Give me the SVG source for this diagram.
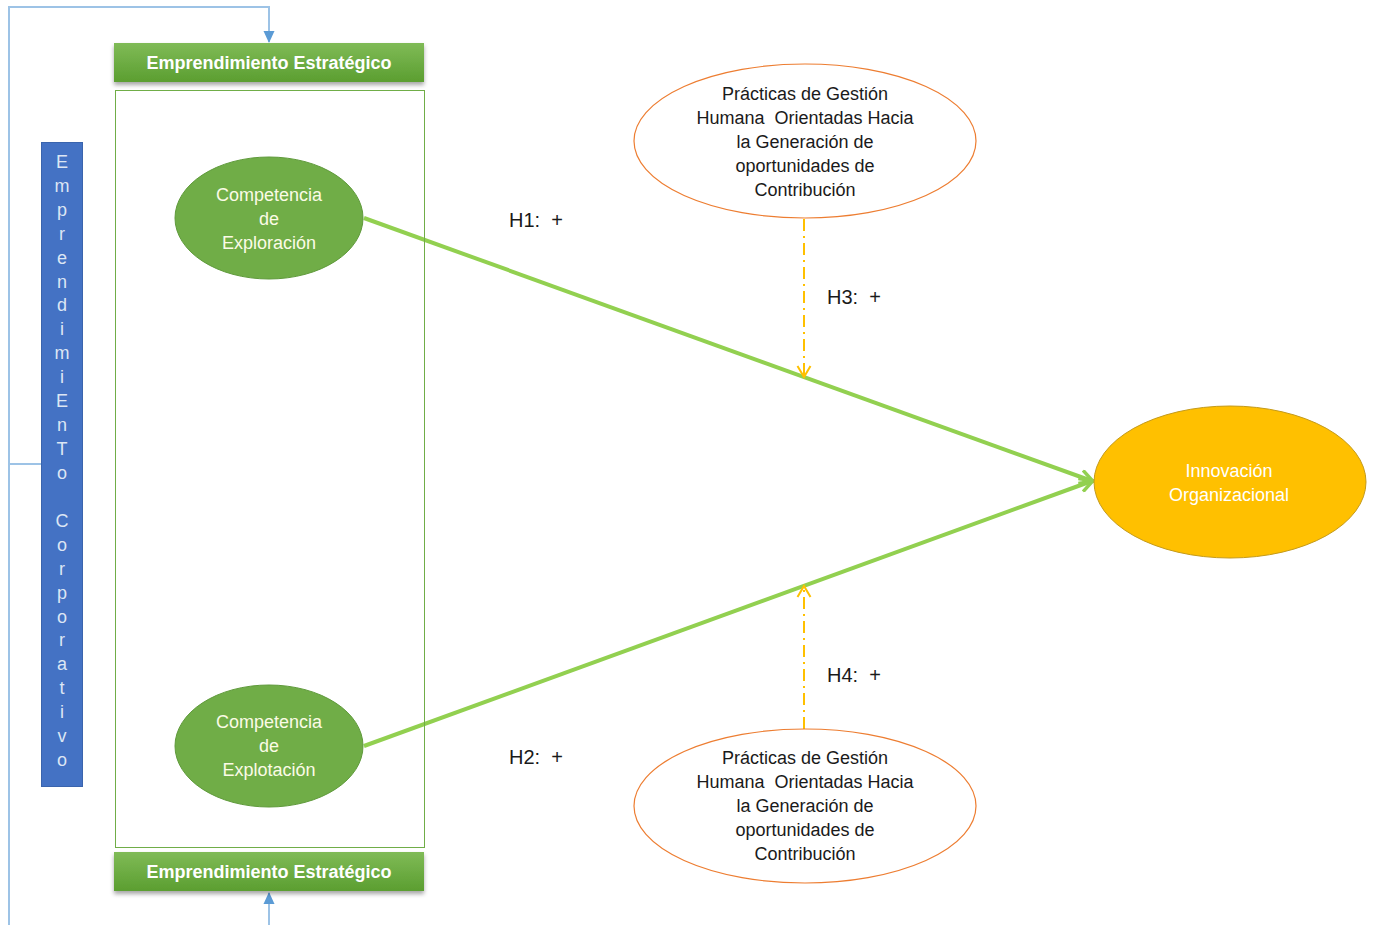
<svg xmlns="http://www.w3.org/2000/svg" width="1374" height="925" viewBox="0 0 1374 925">
  <style>
    .hdr-text { font-family: "Liberation Sans", Arial, sans-serif; font-weight: bold; font-size: 18px; fill: #ffffff; text-anchor: middle; }
    .vert { font-family: "Liberation Sans", Arial, sans-serif; font-size: 18px; fill: #dce6f4; text-anchor: middle; }
    .comp { font-family: "Liberation Sans", Arial, sans-serif; font-size: 18px; fill: #fbfbe6; text-anchor: middle; }
    .inno { font-family: "Liberation Sans", Arial, sans-serif; font-size: 18px; fill: #ffffff; text-anchor: middle; }
    .prac { font-family: "Liberation Sans", Arial, sans-serif; font-size: 18px; fill: #1a1a1a; text-anchor: middle; white-space: pre; }
    .hyp { font-family: "Liberation Sans", Arial, sans-serif; font-size: 20px; fill: #1a1a1a; white-space: pre; }
    .blue-link { fill: none; stroke: #9dc3e6; stroke-width: 2; }
    .main-link { fill: none; stroke: #92d050; stroke-width: 4; }
    .mod-link { fill: none; stroke: #ffc000; stroke-width: 2; stroke-dasharray: 12 5 2 5; }
  </style>
  <defs>
    <linearGradient id="hdrGrad" x1="0" y1="0" x2="0" y2="1">
      <stop offset="0" stop-color="#80bb57"/>
      <stop offset="1" stop-color="#5b9e30"/>
    </linearGradient>
    <filter id="shadow" x="-5%" y="-20%" width="110%" height="160%">
      <feDropShadow dx="0" dy="3" stdDeviation="2" flood-color="#000" flood-opacity="0.35"/>
    </filter>
    <marker id="blueArrow" markerWidth="12" markerHeight="12" refX="11" refY="6" orient="auto" markerUnits="userSpaceOnUse">
      <path d="M0,0.5 L12,6 L0,11.5 Z" fill="#5b9bd5"/>
    </marker>
    <marker id="greenArrow" markerWidth="16" markerHeight="16" refX="13" refY="8" orient="auto" markerUnits="userSpaceOnUse">
      <path d="M1,1 L14,8 L1,15" fill="none" stroke="#92d050" stroke-width="3.5" stroke-linejoin="miter"/>
    </marker>
    <marker id="modArrow" markerWidth="16" markerHeight="16" refX="13" refY="8" orient="auto" markerUnits="userSpaceOnUse">
      <path d="M2,1.5 L13,8 L2,14.5" fill="none" stroke="#ffc000" stroke-width="2"/>
    </marker>
  </defs>

  <rect width="1374" height="925" fill="#ffffff"/>

  <!-- connectors -->
  <g id="connectors">
    <polyline class="blue-link" points="9,925 9,7 269,7 269,42" marker-end="url(#blueArrow)"/>
    <line class="blue-link" x1="9" y1="464" x2="41" y2="464"/>
    <line class="blue-link" x1="269" y1="925" x2="269" y2="893" marker-end="url(#blueArrow)"/>
    <line class="main-link" x1="364" y1="218" x2="1092" y2="481" marker-end="url(#greenArrow)"/>
    <line class="main-link" x1="364" y1="746" x2="1092" y2="481" marker-end="url(#greenArrow)"/>
    <line class="mod-link" x1="804" y1="219" x2="804" y2="377" marker-end="url(#modArrow)"/>
    <line class="mod-link" x1="804" y1="729" x2="804" y2="586" marker-end="url(#modArrow)"/>
  </g>

  <!-- container for the two competences -->
  <g id="container">
    <rect x="115.5" y="90.5" width="309" height="757" fill="none" stroke="#70ad47" stroke-width="1"/>
  </g>

  <g id="header-top">
    <rect x="114" y="43" width="310" height="39" fill="url(#hdrGrad)" filter="url(#shadow)"/>
    <text class="hdr-text" x="269" y="69">Emprendimiento Estratégico</text>
  </g>

  <g id="header-bottom">
    <rect x="114" y="852" width="310" height="39" fill="url(#hdrGrad)" filter="url(#shadow)"/>
    <text class="hdr-text" x="269" y="878">Emprendimiento Estratégico</text>
  </g>

  <g id="emprendimiento-corporativo">
    <rect x="41.5" y="142.5" width="41" height="644" fill="#4472c4" stroke="#3a64ad" stroke-width="1"/>
    <text class="vert" x="62" y="168">E</text>
    <text class="vert" x="62" y="192">m</text>
    <text class="vert" x="62" y="216">p</text>
    <text class="vert" x="62" y="240">r</text>
    <text class="vert" x="62" y="264">e</text>
    <text class="vert" x="62" y="288">n</text>
    <text class="vert" x="62" y="311">d</text>
    <text class="vert" x="62" y="335">i</text>
    <text class="vert" x="62" y="359">m</text>
    <text class="vert" x="62" y="383">i</text>
    <text class="vert" x="62" y="407">E</text>
    <text class="vert" x="62" y="431">n</text>
    <text class="vert" x="62" y="455">T</text>
    <text class="vert" x="62" y="479">o</text>
    <text class="vert" x="62" y="527">C</text>
    <text class="vert" x="62" y="551">o</text>
    <text class="vert" x="62" y="575">r</text>
    <text class="vert" x="62" y="599">p</text>
    <text class="vert" x="62" y="623">o</text>
    <text class="vert" x="62" y="646">r</text>
    <text class="vert" x="62" y="670">a</text>
    <text class="vert" x="62" y="694">t</text>
    <text class="vert" x="62" y="718">i</text>
    <text class="vert" x="62" y="742">v</text>
    <text class="vert" x="62" y="766">o</text>
  </g>

  <g id="competencia-exploracion">
    <ellipse cx="269" cy="218" rx="94" ry="61" fill="#70ad47" stroke="#5f9a3b" stroke-width="1"/>
    <text class="comp" x="269" y="201">Competencia</text>
    <text class="comp" x="269" y="225">de</text>
    <text class="comp" x="269" y="249">Exploración</text>
  </g>

  <g id="competencia-explotacion">
    <ellipse cx="269" cy="746" rx="94" ry="61" fill="#70ad47" stroke="#5f9a3b" stroke-width="1"/>
    <text class="comp" x="269" y="728">Competencia</text>
    <text class="comp" x="269" y="752">de</text>
    <text class="comp" x="269" y="776">Explotación</text>
  </g>

  <g id="innovacion-organizacional">
    <ellipse cx="1230" cy="482" rx="136" ry="76" fill="#ffc000" stroke="#c49a1a" stroke-width="1"/>
    <text class="inno" x="1229" y="477">Innovación</text>
    <text class="inno" x="1229" y="501">Organizacional</text>
  </g>

  <g id="practicas-top">
    <ellipse cx="805" cy="141" rx="171" ry="77" fill="#ffffff" stroke="#ed7d31" stroke-width="1.2"/>
    <text class="prac" x="805" y="100">Prácticas de Gestión</text>
    <text class="prac" x="805" y="124">Humana&#160; Orientadas Hacia</text>
    <text class="prac" x="805" y="148">la Generación de</text>
    <text class="prac" x="805" y="172">oportunidades de</text>
    <text class="prac" x="805" y="196">Contribución</text>
  </g>

  <g id="practicas-bottom">
    <ellipse cx="805" cy="806" rx="171" ry="77" fill="#ffffff" stroke="#ed7d31" stroke-width="1.2"/>
    <text class="prac" x="805" y="764">Prácticas de Gestión</text>
    <text class="prac" x="805" y="788">Humana&#160; Orientadas Hacia</text>
    <text class="prac" x="805" y="812">la Generación de</text>
    <text class="prac" x="805" y="836">oportunidades de</text>
    <text class="prac" x="805" y="860">Contribución</text>
  </g>

  <g id="hypothesis-labels">
    <text class="hyp" x="509" y="227">H1:&#160; +</text>
    <text class="hyp" x="827" y="304">H3:&#160; +</text>
    <text class="hyp" x="827" y="682">H4:&#160; +</text>
    <text class="hyp" x="509" y="764">H2:&#160; +</text>
  </g>
</svg>
